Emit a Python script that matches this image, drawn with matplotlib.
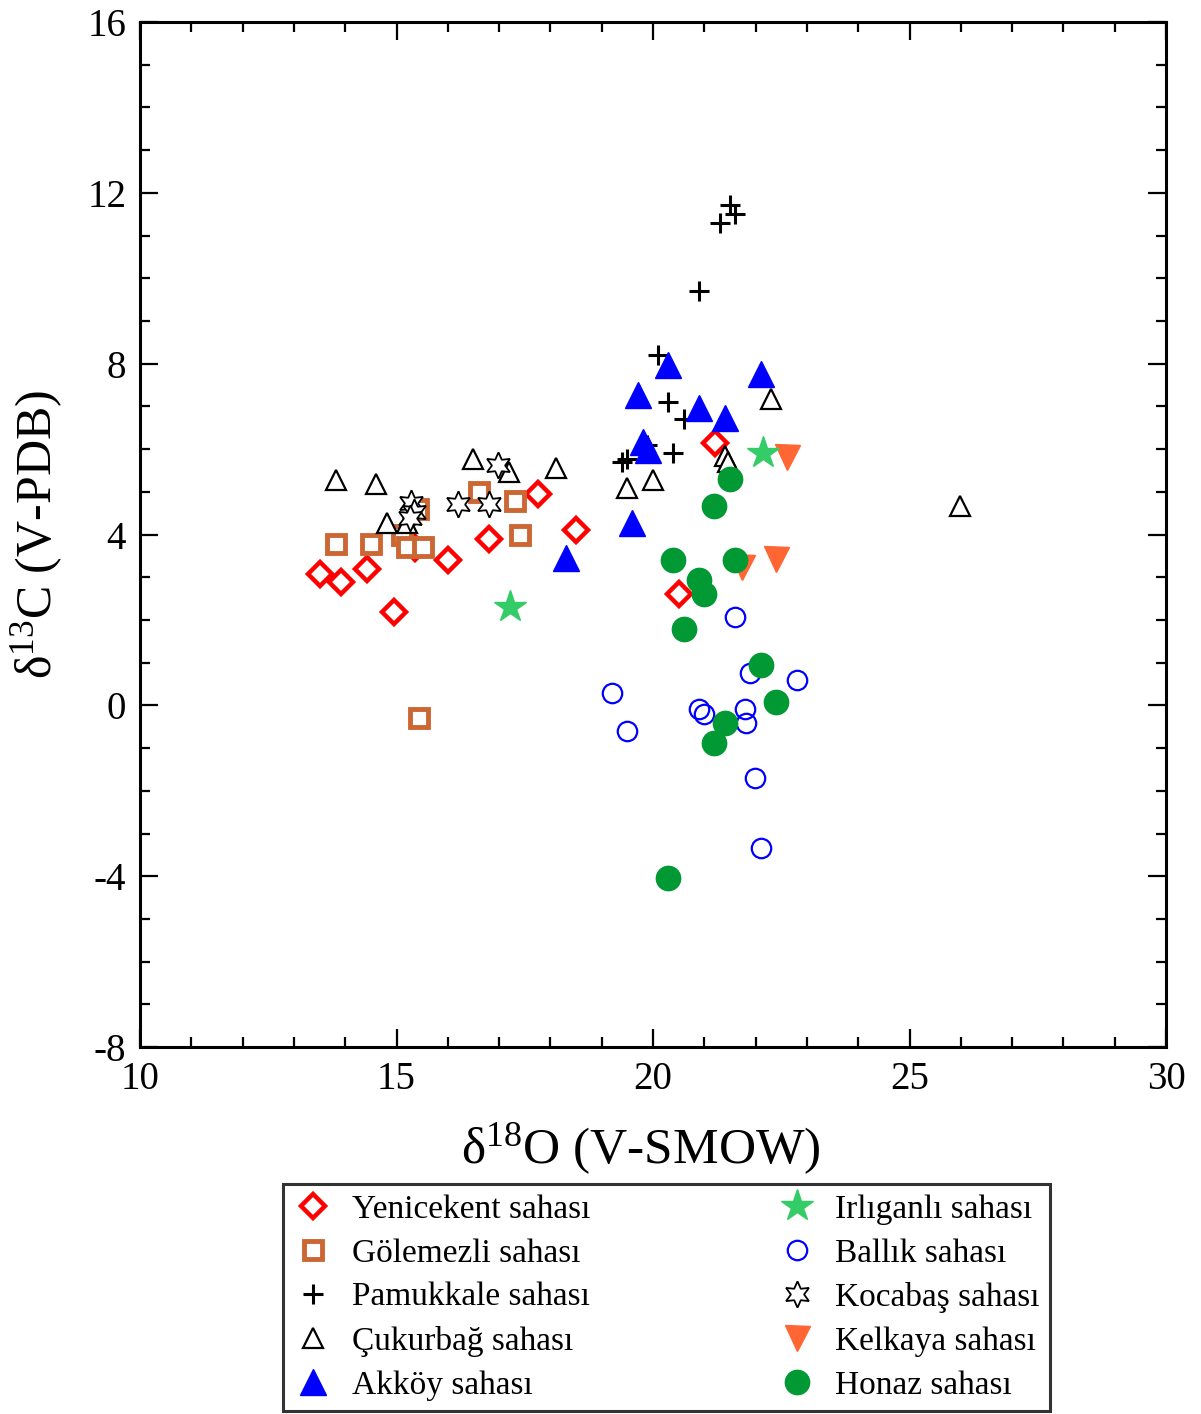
import matplotlib
matplotlib.use("Agg")
import matplotlib.pyplot as plt
from matplotlib.ticker import MultipleLocator

plt.rcParams["font.family"] = ["Liberation Serif", "DejaVu Serif"]
plt.rcParams["mathtext.fontset"] = "custom"
plt.rcParams["mathtext.rm"] = "Liberation Serif"
plt.rcParams["axes.unicode_minus"] = False

# --------------------
# d18O (V-SMOW), d13C (V-PDB) per site

yenicekent_x = [13.51, 13.92, 14.42, 14.95, 15.36, 16.0, 16.80, 17.76, 18.50, 21.21, 20.51]
yenicekent_y = [3.07, 2.88, 3.19, 2.18, 3.68, 3.40, 3.89, 4.96, 4.10, 6.14, 2.60]

golemezli_x = [13.82, 14.50, 15.11, 15.42, 15.20, 15.52, 16.61, 17.31, 17.41, 15.44]
golemezli_y = [3.79, 3.79, 4.00, 4.61, 3.70, 3.70, 4.99, 4.78, 3.98, -0.30]

pamukkale_x = [21.50, 21.60, 21.31, 20.90, 20.10, 20.29, 20.60, 19.88, 20.39, 19.40, 19.49]
pamukkale_y = [11.71, 11.50, 11.29, 9.70, 8.20, 7.10, 6.70, 6.09, 5.90, 5.69, 5.78]

cukurbag_x = [13.82, 14.60, 14.81, 15.20, 16.49, 17.19, 18.11, 19.49, 20.0, 21.40, 21.46, 22.30, 25.98]
cukurbag_y = [5.27, 5.18, 4.26, 4.26, 5.76, 5.46, 5.57, 5.08, 5.27, 5.85, 5.69, 7.17, 4.68]

akkoy_x = [20.29, 19.71, 20.90, 21.40, 22.11, 19.81, 19.90, 19.59, 18.30]
akkoy_y = [7.96, 7.26, 6.96, 6.74, 7.75, 6.16, 5.97, 4.26, 3.44]

irliganli_x = [17.21, 22.14]
irliganli_y = [2.30, 5.92]

ballik_x = [21.60, 21.89, 22.81, 19.20, 20.90, 20.99, 21.79, 21.81, 19.49, 21.99, 22.11]
ballik_y = [2.08, 0.77, 0.59, 0.28, -0.09, -0.21, -0.09, -0.42, -0.61, -1.71, -3.33]

kocabas_x = [15.28, 15.34, 15.26, 16.20, 16.80, 16.98]
kocabas_y = [4.73, 4.54, 4.38, 4.71, 4.71, 5.62]

kelkaya_x = [22.61, 22.40, 21.73]
kelkaya_y = [5.81, 3.42, 3.23]

honaz_x = [20.39, 21.60, 20.90, 20.99, 20.60, 22.11, 22.40, 21.40, 21.19, 20.29, 21.50, 21.19]
honaz_y = [3.40, 3.40, 2.93, 2.60, 1.78, 0.94, 0.07, -0.42, -0.89, -4.03, 5.29, 4.68]

# --------------------

fig = plt.figure(figsize = (12.01, 14.14), dpi = 100)
ax = fig.add_axes([0.1166, 0.2595, 0.8543, 0.7249])

h_yen, = ax.plot(yenicekent_x, yenicekent_y, "D", ms = 12, mfc = "white", mec = "#FF0000", mew = 3.2, ls = "none")
h_gol, = ax.plot(golemezli_x, golemezli_y, "s", ms = 12.5, mfc = "white", mec = "#CC6633", mew = 3.5, ls = "none")
h_pam, = ax.plot(pamukkale_x, pamukkale_y, "+", ms = 15, mec = "black", mew = 2.2, ls = "none")
h_cuk, = ax.plot(cukurbag_x, cukurbag_y, "^", ms = 15, mfc = "white", mec = "black", mew = 1.6, ls = "none")
h_akk, = ax.plot(akkoy_x, akkoy_y, "^", ms = 19, mfc = "#0000FF", mec = "#0000FF", ls = "none")
h_kel, = ax.plot(kelkaya_x, kelkaya_y, "v", ms = 18, mfc = "#FF6633", mec = "#FF6633", ls = "none")
h_bal, = ax.plot(ballik_x, ballik_y, "o", ms = 14, mfc = "none", mec = "#0000FF", mew = 1.6, ls = "none")
h_hon, = ax.plot(honaz_x, honaz_y, "o", ms = 17.5, mfc = "#009933", mec = "#009933", ls = "none")
h_irl, = ax.plot(irliganli_x, irliganli_y, "*", ms = 24, mfc = "#33CC66", mec = "#33CC66", ls = "none")
h_koc, = ax.plot(kocabas_x, kocabas_y, marker = (6, 1, 0), ms = 19, mfc = "white", mec = "black", mew = 1.3, ls = "none")

ax.set_xlim(10, 30)
ax.set_ylim(-8, 16)
ax.xaxis.set_major_locator(MultipleLocator(5))
ax.xaxis.set_minor_locator(MultipleLocator(1))
ax.yaxis.set_major_locator(MultipleLocator(4))
ax.yaxis.set_minor_locator(MultipleLocator(1))
ax.tick_params(which = "both", direction = "in", top = True, right = True, width = 1.6, labelsize = 28, pad = 10)
ax.tick_params(which = "major", length = 13)
ax.tick_params(which = "minor", length = 7)
for s in ax.spines.values():
    s.set_linewidth(2.2)

ax.set_xlabel(r"$\mathrm{\delta^{18}O}$ (V-SMOW)", fontsize = 37, labelpad = 14)
ax.xaxis.set_label_coords(0.488, -0.072)
ax.set_ylabel(r"$\mathrm{\delta^{13}C}$ (V-PDB)", fontsize = 36, labelpad = 16)

handles = [h_yen, h_gol, h_pam, h_cuk, h_akk, h_irl, h_bal, h_koc, h_kel, h_hon]
labels = ["Yenicekent sahası", "Gölemezli sahası", "Pamukkale sahası", "Çukurbağ sahası", "Akköy sahası",
          "Irlıganlı sahası", "Ballık sahası", "Kocabaş sahası", "Kelkaya sahası", "Honaz sahası"]
leg = fig.legend(handles, labels, ncol = 2, loc = "upper left", bbox_to_anchor = (0.236, 0.1625),
                 fontsize = 24, frameon = True, fancybox = False, edgecolor = "black",
                 columnspacing = 5.6, handlelength = 1.2, handletextpad = 0.55, labelspacing = 0.4,
                 borderpad = 0.3, borderaxespad = 0, markerscale = 1.0)
leg.get_frame().set_linewidth(2.2)

plt.savefig("out.png", dpi = 100)
